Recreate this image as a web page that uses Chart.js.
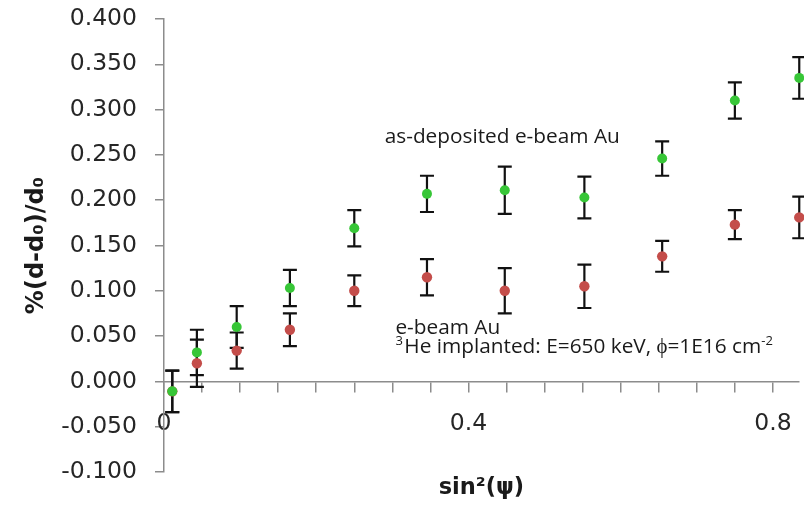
<!DOCTYPE html>
<html>
<head>
<meta charset="utf-8">
<script src="https://cdn.jsdelivr.net/npm/chart.js@4.4.1/dist/chart.umd.min.js"></script>
<style>
  html, body { margin: 0; padding: 0; background: #ffffff; }
  canvas { display: block; }
</style>
</head>
<body>
<canvas id="strainChart" width="804" height="508"></canvas>
<script>
// sin²(ψ) positions of the measurements
const sin2psi = [0.0109, 0.0432, 0.0955, 0.1654, 0.25, 0.3455, 0.4477, 0.5523, 0.6545, 0.75, 0.8346];

// as-deposited e-beam Au: strain and its uncertainty
const asDeposited    = [-0.011, 0.032, 0.060, 0.103, 0.169, 0.207, 0.211, 0.203, 0.246, 0.310, 0.335];
const asDepositedErr = [0.023, 0.025, 0.023, 0.020, 0.020, 0.020, 0.026, 0.023, 0.019, 0.020, 0.023];

// 3He implanted e-beam Au: strain and its uncertainty
const implanted    = [-0.011, 0.020, 0.034, 0.057, 0.100, 0.115, 0.100, 0.105, 0.138, 0.173, 0.181];
const implantedErr = [0.023, 0.026, 0.020, 0.018, 0.017, 0.020, 0.025, 0.024, 0.017, 0.016, 0.023];

// labelled positions on the sin²(ψ) axis
const xLabelValues = [0, 0.4, 0.8];
const xLabelText   = ['0', '0.4', '0.8'];

const TICK_FONT = 'DejaVu Sans';
const NOTE_FONT = 'Open Sans';
const AXIS_GREY = '#8c8c8c';

function toPoints(xs, ys) {
  return xs.map((x, i) => ({ x: x, y: ys[i] }));
}

// vertical error bars with caps, drawn beneath the markers
const errorBars = {
  id: 'errorBars',
  beforeDatasetsDraw(chart) {
    const { ctx } = chart;
    const xs = chart.scales.x, ys = chart.scales.y;
    const cap = 7;
    ctx.save();
    ctx.strokeStyle = '#111111';
    ctx.lineWidth = 2.2;
    chart.data.datasets.forEach(ds => {
      ds.data.forEach((p, i) => {
        const e = ds.errors[i];
        const px = xs.getPixelForValue(p.x);
        const top = ys.getPixelForValue(p.y + e);
        const bot = ys.getPixelForValue(p.y - e);
        ctx.beginPath();
        ctx.moveTo(px, top); ctx.lineTo(px, bot);
        ctx.moveTo(px - cap, top); ctx.lineTo(px + cap, top);
        ctx.moveTo(px - cap, bot); ctx.lineTo(px + cap, bot);
        ctx.stroke();
      });
    });
    ctx.restore();
  }
};

// series captions, anchored in data coordinates; [text, superscript]
const notes = [
  { x: 0.290, y: 0.2628, parts: [['as-deposited e-beam Au', false]] },
  { x: 0.304, y: 0.0527, parts: [['e-beam Au', false]] },
  { x: 0.304, y: 0.0309, parts: [['3', true], ['He implanted: E=650 keV, \u03D5=1E16 cm', false], ['-2', true]] }
];

const captions = {
  id: 'captions',
  afterDatasetsDraw(chart) {
    const { ctx } = chart;
    const xs = chart.scales.x, ys = chart.scales.y;
    const size = 20.8;
    ctx.save();
    ctx.fillStyle = '#1a1a1a';
    ctx.textBaseline = 'alphabetic';
    ctx.textAlign = 'left';
    notes.forEach(n => {
      let cx = xs.getPixelForValue(n.x);
      const base = ys.getPixelForValue(n.y);
      n.parts.forEach(([t, sup]) => {
        const fs = sup ? Math.round(size * 0.62) : size;
        ctx.font = fs + 'px "' + NOTE_FONT + '"';
        ctx.fillText(t, cx, sup ? base - size * 0.42 : base);
        cx += ctx.measureText(t).width + (sup ? 1.5 : 0);
      });
    });
    ctx.restore();
  }
};

new Chart(document.getElementById('strainChart'), {
  type: 'scatter',
  data: {
    datasets: [
      {
        label: 'as-deposited e-beam Au',
        data: toPoints(sin2psi, asDeposited),
        errors: asDepositedErr,
        backgroundColor: '#37c637',
        borderColor: '#37c637',
        pointRadius: 5,
        borderWidth: 0,
        clip: false
      },
      {
        label: 'e-beam Au, 3He implanted',
        data: toPoints(sin2psi, implanted),
        errors: implantedErr,
        backgroundColor: '#c44d4a',
        borderColor: '#c44d4a',
        pointRadius: 5.2,
        borderWidth: 0,
        clip: false
      }
    ]
  },
  options: {
    responsive: false,
    animation: false,
    devicePixelRatio: 1,
    layout: { padding: { top: 19, left: 0, right: 0, bottom: 0 } },
    plugins: {
      legend: { display: false },
      tooltip: { enabled: false }
    },
    scales: {
      x: {
        type: 'linear',
        position: { y: 0 },
        min: 0,
        max: 0.834,
        afterFit(scale) {
          scale.height = 0;
          scale.paddingLeft = 0;
          scale.paddingRight = 0;
        },
        ticks: {
          stepSize: 0.05,
          includeBounds: false,
          autoSkip: false,
          maxRotation: 0,
          padding: 18,
          color: '#262626',
          font: { family: TICK_FONT, size: 23.5 },
          callback(v) {
            const k = xLabelValues.findIndex(u => Math.abs(u - v) < 1e-6);
            return k >= 0 ? xLabelText[k] : '';
          }
        },
        grid: { drawOnChartArea: false, tickLength: 10, color: AXIS_GREY, lineWidth: 1.5 },
        border: { display: true, color: AXIS_GREY, width: 1.5 }
      },
      xTitle: {
        type: 'linear',
        axis: 'x',
        position: 'bottom',
        ticks: { display: false },
        grid: { display: false, drawTicks: false },
        border: { display: false },
        title: {
          display: true,
          text: 'sin\u00B2(\u03C8)',
          color: '#1a1a1a',
          font: { family: TICK_FONT, size: 22.5, weight: 'bold' },
          padding: { top: 3, bottom: 6 }
        }
      },
      y: {
        type: 'linear',
        position: 'left',
        min: -0.1,
        max: 0.4,
        afterFit(scale) {
          scale.width = 164;
          scale.paddingTop = 0;
          scale.paddingBottom = 0;
        },
        ticks: {
          stepSize: 0.05,
          padding: 18,
          color: '#262626',
          font: { family: TICK_FONT, size: 23.5 },
          callback(v) { return (Math.abs(v) < 1e-9 ? 0 : v).toFixed(3); }
        },
        grid: { drawOnChartArea: false, tickLength: 9, color: AXIS_GREY, lineWidth: 1.5 },
        border: { display: true, color: AXIS_GREY, width: 1.5 },
        title: {
          display: true,
          text: '%(d-d\u2080)/d\u2080',
          color: '#1a1a1a',
          font: { family: TICK_FONT, size: 24, weight: 'bold' },
          padding: { top: 22, bottom: 0 }
        }
      }
    }
  },
  plugins: [errorBars, captions]
});
</script>
</body>
</html>
